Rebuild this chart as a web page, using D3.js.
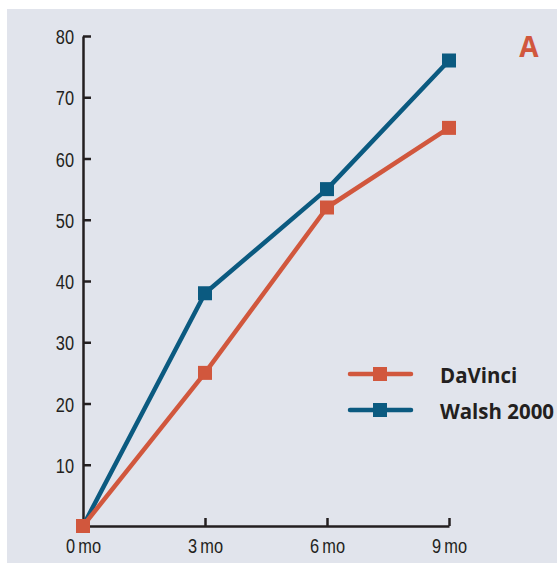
<!DOCTYPE html>
<html>
<head>
<meta charset="utf-8">
<script src="https://cdn.jsdelivr.net/npm/d3@7"></script>
<style>
  html, body { margin: 0; padding: 0; background: #fff; }
  svg { display: block; }
</style>
</head>
<body>
<svg id="chart" width="557" height="563"></svg>
<script>
  // data
  const months = ["0 mo", "3 mo", "6 mo", "9 mo"];
  const daVinci = [0, 25, 52, 65];
  const walsh = [0, 38, 55, 76];
  const yTicks = [10, 20, 30, 40, 50, 60, 70, 80];

  const series = [
    { name: "Walsh 2000", values: walsh, color: "#0b5a80" },
    { name: "DaVinci", values: daVinci, color: "#d1573d" }
  ];

  const svg = d3.select("#chart");
  const W = 557, H = 563;
  const ink = "#231f20";
  const narrow = 0.78; // squeeze for the condensed tick font

  // panel background
  svg.append("rect")
    .attr("x", 7).attr("y", 9)
    .attr("width", W - 7).attr("height", H - 9)
    .attr("fill", "#e1e4ec");

  const x = d3.scalePoint().domain(months).range([83, 449]);
  const y = d3.scaleLinear().domain([0, 80]).range([526, 36]);

  function tickFont(sel) {
    sel.attr("font-family", "'Liberation Sans', Arial, sans-serif")
      .attr("font-size", 21)
      .attr("fill", ink);
  }

  // y axis, ticks point inward
  const yAxis = svg.append("g")
    .attr("transform", "translate(83,0)")
    .call(d3.axisRight(y).tickValues(yTicks).tickSize(8).tickSizeOuter(0));
  yAxis.select(".domain").attr("stroke", ink).attr("stroke-width", 2.5);
  yAxis.selectAll(".tick line").attr("stroke", ink).attr("stroke-width", 2.5);
  yAxis.selectAll(".tick text")
    .call(tickFont)
    .attr("x", -9 / narrow).attr("text-anchor", "end").attr("dy", "0.36em")
    .attr("transform", `scale(${narrow},1)`);

  // x axis, ticks point up
  const xAxis = svg.append("g")
    .attr("transform", "translate(0,526)")
    .call(d3.axisTop(x).tickSize(8).tickSizeOuter(0));
  xAxis.select(".domain").attr("stroke", ink).attr("stroke-width", 2.5);
  xAxis.selectAll(".tick line").attr("stroke", ink).attr("stroke-width", 2.5)
    .attr("display", (d, i) => i === 0 ? "none" : null);
  xAxis.selectAll(".tick text")
    .call(tickFont)
    .attr("y", 27).attr("dy", "0").attr("text-anchor", "middle")
    .attr("transform", `scale(${narrow},1)`)
    .style("word-spacing", "-1.5px");

  const line = d3.line()
    .x((d, i) => x(months[i]))
    .y(d => y(d));

  const sq = 14;
  series.forEach(s => {
    const g = svg.append("g");
    g.append("path")
      .datum(s.values)
      .attr("d", line)
      .attr("fill", "none")
      .attr("stroke", s.color)
      .attr("stroke-width", 4.5)
      .attr("stroke-linejoin", "round");
    g.selectAll("rect")
      .data(s.values)
      .join("rect")
      .attr("x", (d, i) => x(months[i]) - sq / 2)
      .attr("y", d => y(d) - sq / 2)
      .attr("width", sq).attr("height", sq)
      .attr("fill", s.color);
  });

  // legend
  const legendItems = [series[1], series[0]];
  const lg = svg.append("g");
  legendItems.forEach((s, i) => {
    const ly = 374 + i * 36;
    lg.append("line")
      .attr("x1", 350).attr("x2", 411)
      .attr("y1", ly).attr("y2", ly)
      .attr("stroke", s.color).attr("stroke-width", 4.5)
      .attr("stroke-linecap", "round");
    lg.append("rect")
      .attr("x", 380 - sq / 2).attr("y", ly - sq / 2)
      .attr("width", sq).attr("height", sq)
      .attr("fill", s.color);
    lg.append("text")
      .attr("transform", `translate(440,${ly + 9}) scale(0.93,1)`)
      .attr("font-family", "'Open Sans', 'DejaVu Sans', sans-serif")
      .attr("font-weight", "bold")
      .attr("font-size", 22)
      .attr("fill", ink)
      .text(s.name);
  });

  // panel letter
  svg.append("text")
    .attr("x", 529).attr("y", 57)
    .attr("text-anchor", "middle")
    .attr("font-family", "'Open Sans', 'DejaVu Sans', sans-serif")
    .attr("font-weight", "bold")
    .attr("font-size", 28)
    .attr("fill", "#d1573d")
    .text("A");
</script>
</body>
</html>
